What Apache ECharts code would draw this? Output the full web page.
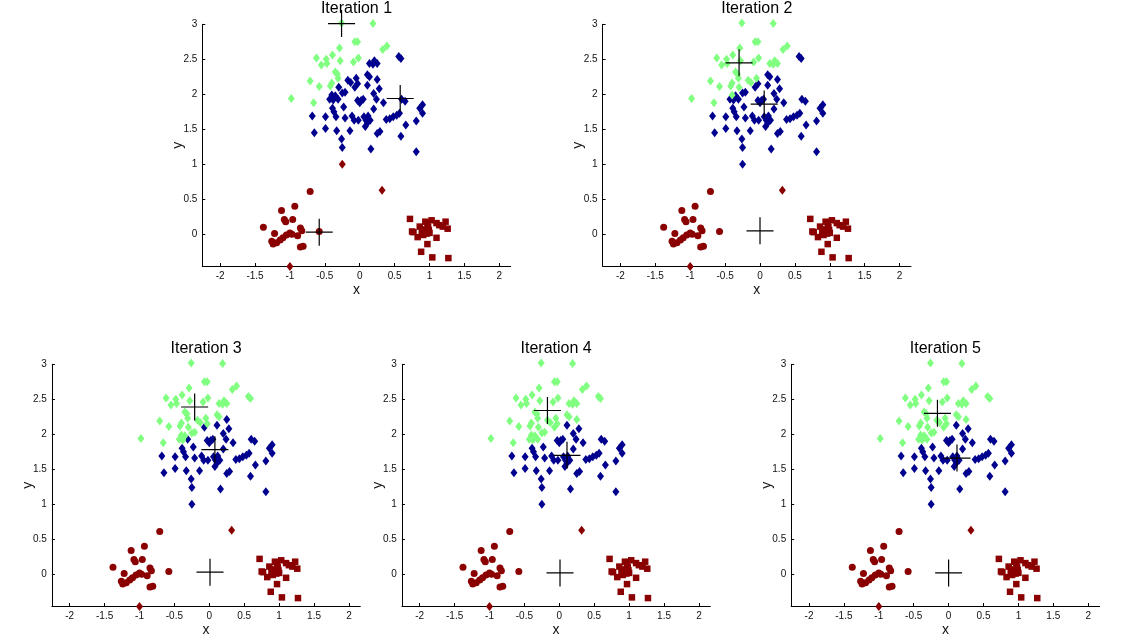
<!DOCTYPE html>
<html><head><meta charset="utf-8">
<script src="https://cdn.jsdelivr.net/npm/echarts@6/dist/echarts.min.js"></script>
<style>html,body{margin:0;padding:0;background:#fff}#c{width:1139px;height:640px}</style>
</head><body><div id="c"></div>
<script>
// ---------------- data ----------------
const titles = ['Iteration 1', 'Iteration 2', 'Iteration 3', 'Iteration 4', 'Iteration 5'];
const xTicks = [-2, -1.5, -1, -0.5, 0, 0.5, 1, 1.5, 2];
const yTicks = [0, 0.5, 1, 1.5, 2, 2.5, 3];

// diamond points of the upper cluster (same positions in every iteration)
const topPts = [
  [-0.26,3.02],[0.19,3.01],[-0.07,2.75],[-0.03,2.75],[0.33,2.64],[0.39,2.69],[-0.62,2.52],[-0.48,2.50],[-0.39,2.56],[-0.29,2.66],
  [-0.28,2.48],[-0.09,2.46],[-0.02,2.52],[-0.55,2.42],[-0.47,2.44],[-0.35,2.32],[-0.32,2.29],[-0.31,2.23],[-0.71,2.19],[-0.58,2.11],
  [-0.40,2.16],[-0.42,2.12],[-0.98,1.94],[-0.66,1.88],[0.56,2.54],[0.59,2.51],[0.14,2.44],[0.19,2.43],[0.21,2.48],[0.25,2.44],
  [0.11,2.28],[0.14,2.25],[0.25,2.21],[0.28,2.08],[-0.17,2.20],[-0.13,2.17],[-0.05,2.23],[-0.03,2.15],[-0.07,2.10],[-0.30,2.10],
  [-0.21,2.03],[-0.25,2.02],[-0.40,1.99],[-0.35,1.98],[-0.43,1.93],[-0.38,1.92],[-0.31,1.93],[-0.23,1.82],[-0.39,1.80],[-0.37,1.75],
  [-0.34,1.68],[0.11,2.13],[0.20,2.01],[0.24,1.93],[-0.03,1.91],[0.02,1.91],[0.05,1.93],[0.00,1.88],[0.20,1.79],[0.34,1.88],
  [0.60,1.93],[0.65,1.90],[0.86,1.80],[0.90,1.85],[0.90,1.73],[-0.68,1.69],[-0.49,1.68],[-0.21,1.66],[-0.11,1.69],[-0.08,1.63],
  [-0.02,1.63],[0.06,1.68],[0.09,1.63],[0.12,1.69],[0.15,1.63],[0.11,1.59],[0.38,1.64],[0.43,1.65],[0.48,1.68],[0.53,1.70],
  [0.57,1.73],[0.66,1.56],[0.81,1.62],[-0.65,1.45],[-0.49,1.51],[-0.33,1.48],[-0.14,1.48],[0.08,1.54],[0.25,1.44],[0.29,1.47],
  [0.59,1.40],[-0.26,1.36],[-0.25,1.24],[0.16,1.22],[0.81,1.18],[-0.25,1.00]
];

// cluster label of each topPts point, per iteration (g = green, b = blue, r = red)
const labelsIter1 = 'gggggggggg gggggggggg ggggbbbbbb bbbbbbbbbb bbbbbbbbbb bbbbbbbbbb bbbbbbbbbb bbbbbbbbbb bbbbbbbbbb bbbbbr';
const labelsIter2 = 'gggggggggg gggggggggg ggggbbgggg bbbbgggbbg bbgbbbbbbb bbbbbbbbbb bbbbbbbbbb bbbbbbbbbb bbbbbbbbbb bbbbbb';
const labelsIter3 = 'gggggggggg gggggggggg gggggggggg ggbbggggbg ggggggbbbb bbbbbbbbbb bbbbbbbbbb bbbbbbbbbb bbbbbbbbbb bbbbbb';
const labelsIter4 = 'gggggggggg gggggggggg gggggggggg gggbgggggg gggggggbbb bbbbbbbbbb bbbbbbbbbb bbbbbbbbbb bbbbbbbbbb bbbbbb';
const labelsIter5 = 'gggggggggg gggggggggg gggggggggg gggbgggggg gggggggbbb bbbbbbbbbb bbbbbbbbbb bbbbbbbbbb bbbbbbbbbb bbbbbb';

// lower-left cluster (circles), lower-right cluster (squares), other red diamonds
const redCircles = [
  [-0.71,0.61],[-0.93,0.40],[-1.12,0.34],[-1.08,0.21],[-1.06,0.18],[-0.96,0.21],[-1.38,0.10],[-1.22,0.01],[-0.85,0.09],[-0.83,0.05],
  [-0.89,-0.02],[-1.00,0.02],[-1.05,-0.01],[-1.10,-0.05],[-1.14,-0.08],[-1.19,-0.12],[-1.24,-0.14],[-1.26,-0.10],[-0.85,-0.18],[-0.81,-0.17],
  [-0.58,0.04],[-0.97,0.00]
];
const redSquares = [
  [0.72,0.22],[0.75,0.04],[0.77,0.03],[0.83,-0.04],[0.86,0.11],[0.89,0.03],[0.91,-0.01],[0.94,0.18],[0.97,0.16],[0.98,0.10],
  [1.03,0.20],[0.96,0.01],[1.00,0.02],[0.97,-0.14],[0.88,-0.25],[1.10,0.16],[1.14,0.13],[1.10,-0.05],[1.19,0.11],[1.23,0.18],
  [1.26,0.08],[1.04,-0.33],[1.27,-0.34],[0.93,0.07],[0.99,0.06]
];
const redDiamonds = [[0.32,0.63],[-1.00,-0.46]];

// centroids (green, blue, red) per iteration
const centroidsIter1 = [[-0.26,3.01],[0.58,1.94],[-0.58,0.03]];
const centroidsIter2 = [[-0.30,2.45],[0.06,1.86],[0.00,0.05]];
const centroidsIter3 = [[-0.21,2.39],[0.08,1.78],[0.01,0.03]];
const centroidsIter4 = [[-0.17,2.34],[0.11,1.70],[0.01,0.02]];
const centroidsIter5 = [[-0.16,2.30],[0.12,1.66],[0.00,0.02]];

// ---------------- chart ----------------
const labelSets = [labelsIter1, labelsIter2, labelsIter3, labelsIter4, labelsIter5].map(s => s.replace(/ /g, ''));
const centroidSets = [centroidsIter1, centroidsIter2, centroidsIter3, centroidsIter4, centroidsIter5];

const GREEN = '#80ff80', BLUE = '#00008f', RED = '#8a0000';
const FONT = 'Liberation Sans, Arial, sans-serif';
const PW = 308.4, PH = 241.7;
const panels = [
  {left: 202.3, top: 24.3}, {left: 602.6, top: 24.3},
  {left: 51.9, top: 364.3}, {left: 401.9, top: 364.3}, {left: 791.2, top: 364.3}
];
const CROSS = 'path://M-10 0L10 0M0 -10L0 10';
const DIAMOND_SIZE = [7, 9];

const grid = [], xAxis = [], yAxis = [], series = [], graphic = [];
panels.forEach((p, i) => {
  grid.push({left: p.left, top: p.top, width: PW, height: PH, containLabel: false});
  xAxis.push({
    gridIndex: i, type: 'value', min: -2.255, max: 2.163,
    axisLine: {show: true, onZero: false, lineStyle: {color: '#000', width: 1}},
    axisTick: {show: true, inside: true, length: 3, customValues: xTicks, lineStyle: {color: '#000'}},
    axisLabel: {customValues: xTicks, fontSize: 10, color: '#111', margin: 5, fontFamily: FONT},
    splitLine: {show: false},
    name: 'x', nameLocation: 'middle', nameGap: 17,
    nameTextStyle: {fontSize: 14, color: '#111', fontFamily: FONT}
  });
  yAxis.push({
    gridIndex: i, type: 'value', min: -0.453, max: 3,
    axisLine: {show: true, onZero: false, lineStyle: {color: '#000', width: 1}},
    axisTick: {show: true, inside: true, length: 3, customValues: yTicks, lineStyle: {color: '#000'}},
    axisLabel: {customValues: yTicks, fontSize: 10, color: '#111', margin: 5, fontFamily: FONT},
    splitLine: {show: false},
    name: 'y', nameLocation: 'middle', nameGap: 17, nameMoveOverlap: false,
    nameTextStyle: {fontSize: 14, color: '#111', fontFamily: FONT}
  });
  graphic.push({
    type: 'text', x: p.left + PW / 2, y: p.top - 24,
    style: {text: titles[i], fontSize: 16, fontFamily: FONT, fill: '#000', align: 'center', verticalAlign: 'top'}
  });

  const labs = labelSets[i];
  const green = [], blue = [], redD = redDiamonds.slice();
  topPts.forEach((pt, k) => {
    const c = labs[k];
    if (c === 'g') green.push(pt); else if (c === 'b') blue.push(pt); else redD.push(pt);
  });
  const base = {type: 'scatter', xAxisIndex: i, yAxisIndex: i, clip: false, silent: true, animation: false};
  series.push(Object.assign({}, base, {data: redCircles, symbol: 'circle', symbolSize: 7, itemStyle: {color: RED, opacity: 1}}));
  series.push(Object.assign({}, base, {data: redSquares, symbol: 'rect', symbolSize: 6.5, itemStyle: {color: RED, opacity: 1}}));
  series.push(Object.assign({}, base, {data: redD, symbol: 'diamond', symbolSize: DIAMOND_SIZE, itemStyle: {color: RED, opacity: 1}}));
  series.push(Object.assign({}, base, {data: blue, symbol: 'diamond', symbolSize: DIAMOND_SIZE, itemStyle: {color: BLUE, opacity: 1}}));
  series.push(Object.assign({}, base, {data: green, symbol: 'diamond', symbolSize: DIAMOND_SIZE, itemStyle: {color: GREEN, opacity: 1}}));
  series.push(Object.assign({}, base, {
    data: centroidSets[i], symbol: CROSS, symbolSize: 27, z: 5,
    itemStyle: {color: 'rgba(0,0,0,0)', borderColor: '#000', borderWidth: 1.2, opacity: 1}
  }));
});

const chart = echarts.init(document.getElementById('c'), null, {renderer: 'canvas'});
chart.setOption({animation: false, backgroundColor: '#fff', grid, xAxis, yAxis, series, graphic});
</script>
</body></html>
